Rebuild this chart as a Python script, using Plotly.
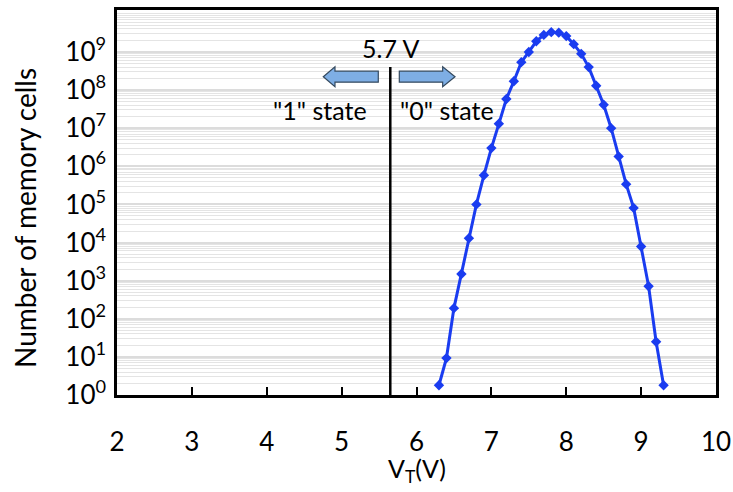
import plotly.graph_objects as go

# ---- data ----
vt = [6.3, 6.4, 6.5, 6.6, 6.7, 6.8, 6.9, 7.0, 7.1, 7.2, 7.3, 7.4, 7.5, 7.6, 7.7, 7.8,
      7.9, 8.0, 8.1, 8.2, 8.3, 8.4, 8.5, 8.6, 8.7, 8.8, 8.9, 9.0, 9.1, 9.2, 9.3]
cells = [1.8, 9.3, 190, 1500, 1.3e4, 1.0e5, 5.8e5, 3.0e6, 1.3e7, 5.8e7, 1.7e8, 5.4e8,
         1.0e9, 1.9e9, 2.8e9, 3.3e9, 3.2e9, 2.6e9, 1.6e9, 8.9e8, 4.0e8, 1.3e8, 4.1e7,
         1.0e7, 1.8e6, 3.4e5, 8.1e4, 7.9e3, 710, 25, 1.8]
threshold_label = "5.7 V"
threshold_x = 5.65
x_ticks = [2, 3, 4, 5, 6, 7, 8, 9, 10]
y_tickvals = [10 ** k for k in range(0, 10)]
y_ticktext = ["10<sup>%d</sup>" % k for k in range(0, 10)]
minor_vals = [m * 10 ** k for k in range(0, 10) for m in range(2, 10)] + [1e10]

# plot-area geometry in page pixels (page margin removed by post_script)
W, H = 733, 492
L, R, T, B = 117, 716, 10, 395

def px(x):
    return (x - L) / (R - L)

def py(y):
    return (B - y) / (B - T)

FONT = "Lato, 'Open Sans', sans-serif"
blue = "#1a3cf0"

fig = go.Figure()
fig.add_trace(go.Scatter(
    x=vt, y=cells, mode="lines+markers",
    line=dict(color=blue, width=3),
    marker=dict(symbol="diamond", size=8, color=blue),
    showlegend=False,
))

# threshold line
fig.add_shape(type="line", xref="x", yref="paper", x0=threshold_x, x1=threshold_x,
              y0=0, y1=py(67), line=dict(color="black", width=2.5))

# arrows
ay_c, body_h, head_h = 76.7, 5.5, 10
left_arrow = [(323.3, ay_c), (335, ay_c - head_h), (335, ay_c - body_h), (378.3, ay_c - body_h),
              (378.3, ay_c + body_h), (335, ay_c + body_h), (335, ay_c + head_h)]
right_arrow = [(455, ay_c), (442.7, ay_c - head_h), (442.7, ay_c - body_h), (399.3, ay_c - body_h),
               (399.3, ay_c + body_h), (442.7, ay_c + body_h), (442.7, ay_c + head_h)]
for poly in (left_arrow, right_arrow):
    path = "M " + " L ".join("%.4f,%.4f" % (px(a), py(b)) for a, b in poly) + " Z"
    fig.add_shape(type="path", xref="paper", yref="paper", path=path,
                  fillcolor="#7eaee4", line=dict(color="#34495e", width=1.2))

ann_font = dict(size=25, color="black", family=FONT)
fig.add_annotation(x=threshold_x, xref="x", y=py(48), yref="paper", text=threshold_label,
                   showarrow=False, font=ann_font, xanchor="center", yanchor="middle")
fig.add_annotation(x=px(320), xref="paper", y=py(110), yref="paper", text='"1" state',
                   showarrow=False, font=ann_font, xanchor="center", yanchor="middle")
fig.add_annotation(x=px(446.5), xref="paper", y=py(110), yref="paper", text='"0" state',
                   showarrow=False, font=ann_font, xanchor="center", yanchor="middle")

# axis titles
fig.add_annotation(x=px(25), xref="paper", y=py(218), yref="paper", text="Number of memory cells",
                   textangle=-90, showarrow=False, font=dict(size=28, color="black", family=FONT),
                   xanchor="center", yanchor="middle")
fig.add_annotation(x=0.5, xref="paper", y=py(470), yref="paper", text="V<sub>T</sub>(V)",
                   showarrow=False, font=dict(size=25, color="black", family=FONT),
                   xanchor="center", yanchor="middle")

fig.update_xaxes(range=[2, 10], tickvals=x_ticks, ticks="inside", ticklen=8, tickwidth=2,
                 tickcolor="black", showline=True, linecolor="black", linewidth=2.5, mirror=True,
                 showgrid=False, zeroline=False, ticklabelstandoff=22, automargin=False,
                 tickfont=dict(size=26, color="black", family=FONT))
fig.update_yaxes(type="log", range=[0, 10.1], tickvals=y_tickvals, ticktext=y_ticktext,
                 ticks="", showline=True, linecolor="black", linewidth=2.5, mirror=True,
                 showgrid=True, gridcolor="#dcdcdc", gridwidth=1.5, zeroline=False,
                 ticklabelstandoff=3, automargin=False,
                 minor=dict(tickvals=minor_vals, showgrid=True, gridcolor="#e4e4e4", gridwidth=1),
                 tickfont=dict(size=26, color="black", family=FONT))

fig.update_layout(width=W, height=H, margin=dict(l=L, r=W - R, t=T, b=H - B),
                  plot_bgcolor="white", paper_bgcolor="white", showlegend=False)

fig.write_html("out.html",
               config={"displayModeBar": False, "responsive": False},
               post_script="document.body.style.margin='0';document.body.style.overflow='hidden';"
                           "document.documentElement.style.overflow='hidden';")
